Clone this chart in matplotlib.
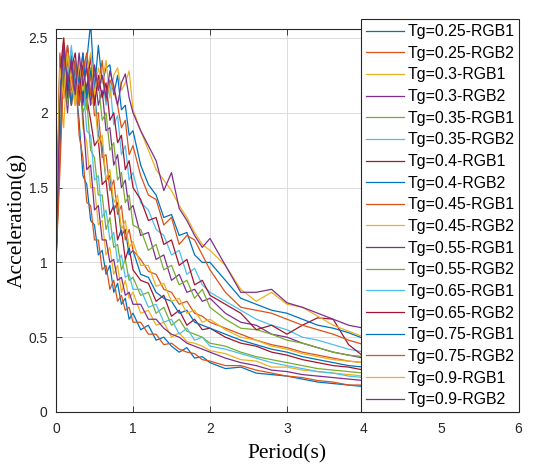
import matplotlib.pyplot as plt
from matplotlib.ticker import FormatStrFormatter

# period grid (s)
period = [0, 0.05, 0.1, 0.15, 0.2, 0.25, 0.3, 0.35, 0.4, 0.45, 0.5, 0.55, 0.6, 0.65, 0.7,
          0.75, 0.8, 0.85, 0.9, 0.95, 1.0, 1.1, 1.2, 1.3, 1.4, 1.5, 1.6, 1.7, 1.8, 1.9, 2.0,
          2.2, 2.4, 2.6, 2.8, 3.0, 3.2, 3.4, 3.6, 3.8, 4.0]

labels = ['Tg=0.25-RGB1', 'Tg=0.25-RGB2', 'Tg=0.3-RGB1', 'Tg=0.3-RGB2',
          'Tg=0.35-RGB1', 'Tg=0.35-RGB2', 'Tg=0.4-RGB1', 'Tg=0.4-RGB2',
          'Tg=0.45-RGB1', 'Tg=0.45-RGB2', 'Tg=0.55-RGB1', 'Tg=0.55-RGB2',
          'Tg=0.65-RGB1', 'Tg=0.65-RGB2', 'Tg=0.75-RGB1', 'Tg=0.75-RGB2',
          'Tg=0.9-RGB1', 'Tg=0.9-RGB2']

# spectral acceleration (g)
tg025_rgb1 = [1.00, 2.05, 2.35, 2.10, 2.42, 2.20, 1.95, 1.58, 1.52, 1.28, 1.25, 1.05, 1.08, 0.92, 0.98, 0.80, 0.86, 0.72, 0.76, 0.62, 0.66,
              0.55, 0.58, 0.48, 0.50, 0.44, 0.40, 0.43, 0.36, 0.37, 0.33, 0.29, 0.30, 0.26, 0.25, 0.24, 0.22, 0.20, 0.19, 0.18, 0.17]
tg025_rgb2 = [1.00, 1.70, 2.45, 2.25, 2.05, 2.30, 1.85, 1.70, 1.40, 1.38, 1.15, 1.15, 0.95, 0.98, 0.82, 0.88, 0.74, 0.78, 0.68, 0.70, 0.60,
              0.60, 0.52, 0.52, 0.45, 0.46, 0.42, 0.40, 0.39, 0.35, 0.34, 0.31, 0.31, 0.28, 0.26, 0.24, 0.23, 0.21, 0.20, 0.18, 0.18]
tg03_rgb1 = [1.00, 2.15, 1.90, 2.40, 2.20, 2.05, 2.30, 1.90, 1.80, 1.50, 1.50, 1.25, 1.28, 1.05, 1.10, 0.92, 0.98, 0.80, 0.88, 0.76, 0.80,
             0.66, 0.68, 0.58, 0.60, 0.50, 0.53, 0.47, 0.46, 0.44, 0.41, 0.39, 0.35, 0.34, 0.30, 0.30, 0.28, 0.27, 0.26, 0.25, 0.24]
tg03_rgb2 = [1.00, 1.85, 2.30, 2.00, 2.35, 2.15, 2.25, 1.98, 1.62, 1.65, 1.35, 1.38, 1.15, 1.15, 1.00, 1.02, 0.88, 0.90, 0.78, 0.80, 0.72,
             0.72, 0.62, 0.62, 0.56, 0.52, 0.50, 0.46, 0.44, 0.42, 0.40, 0.36, 0.33, 0.31, 0.28, 0.27, 0.25, 0.24, 0.23, 0.22, 0.21]
tg035_rgb1 = [1.00, 2.20, 2.40, 2.05, 2.30, 2.10, 2.35, 2.00, 2.08, 1.75, 1.70, 1.45, 1.45, 1.22, 1.30, 1.10, 1.12, 0.95, 1.02, 0.88, 0.90,
              0.78, 0.80, 0.66, 0.70, 0.58, 0.62, 0.54, 0.52, 0.50, 0.46, 0.44, 0.40, 0.37, 0.35, 0.33, 0.31, 0.29, 0.28, 0.27, 0.26]
tg035_rgb2 = [1.00, 1.95, 2.25, 2.40, 2.10, 2.28, 2.05, 2.20, 1.88, 1.85, 1.55, 1.58, 1.30, 1.35, 1.15, 1.20, 1.00, 1.05, 0.90, 0.92, 0.82,
              0.82, 0.70, 0.72, 0.60, 0.62, 0.52, 0.56, 0.48, 0.50, 0.44, 0.42, 0.39, 0.36, 0.33, 0.31, 0.29, 0.27, 0.26, 0.24, 0.23]
tg04_rgb1 = [1.00, 2.30, 2.10, 2.45, 2.20, 2.35, 2.05, 2.28, 2.10, 1.95, 1.78, 1.82, 1.52, 1.55, 1.32, 1.38, 1.15, 1.22, 1.02, 1.10, 0.95,
             0.88, 0.86, 0.74, 0.78, 0.64, 0.68, 0.58, 0.62, 0.55, 0.56, 0.50, 0.46, 0.44, 0.40, 0.38, 0.35, 0.33, 0.31, 0.30, 0.28]
tg04_rgb2 = [1.00, 1.75, 2.35, 2.15, 2.40, 2.20, 2.30, 2.10, 2.35, 2.60, 2.15, 1.85, 1.78, 1.55, 1.58, 1.35, 1.40, 1.18, 1.22, 1.05, 1.08,
             0.92, 0.90, 0.80, 0.76, 0.74, 0.66, 0.68, 0.60, 0.58, 0.56, 0.52, 0.48, 0.45, 0.42, 0.40, 0.37, 0.35, 0.33, 0.31, 0.30]
tg045_rgb1 = [1.00, 2.40, 2.20, 2.35, 2.05, 2.30, 2.15, 2.40, 2.10, 2.25, 1.98, 2.00, 1.70, 1.72, 1.48, 1.55, 1.32, 1.38, 1.15, 1.22, 1.08,
              1.02, 0.94, 0.92, 0.82, 0.80, 0.72, 0.74, 0.66, 0.64, 0.60, 0.56, 0.52, 0.48, 0.45, 0.43, 0.40, 0.38, 0.36, 0.34, 0.33]
tg045_rgb2 = [1.00, 2.00, 2.50, 2.25, 2.40, 2.10, 2.32, 2.18, 2.38, 2.05, 2.10, 1.80, 1.85, 1.55, 1.62, 1.40, 1.45, 1.22, 1.28, 1.10, 1.14,
              0.98, 0.98, 0.84, 0.86, 0.74, 0.76, 0.66, 0.68, 0.60, 0.62, 0.55, 0.50, 0.48, 0.44, 0.42, 0.39, 0.37, 0.35, 0.34, 0.33]
tg055_rgb1 = [1.00, 2.20, 2.45, 2.10, 2.38, 2.15, 2.30, 2.05, 2.35, 2.12, 2.28, 2.05, 2.15, 1.88, 1.90, 1.65, 1.72, 1.50, 1.55, 1.35, 1.38,
              1.18, 1.20, 1.02, 1.05, 0.88, 0.92, 0.80, 0.82, 0.74, 0.76, 0.66, 0.60, 0.58, 0.52, 0.50, 0.46, 0.43, 0.40, 0.38, 0.36]
tg055_rgb2 = [1.00, 2.35, 2.15, 2.40, 2.20, 2.30, 2.08, 2.25, 2.02, 2.30, 2.10, 2.20, 1.95, 2.00, 1.75, 1.80, 1.55, 1.60, 1.40, 1.45, 1.25,
              1.22, 1.08, 1.12, 0.95, 0.98, 0.85, 0.88, 0.76, 0.82, 0.70, 0.62, 0.56, 0.55, 0.52, 0.48, 0.46, 0.43, 0.40, 0.38, 0.37]
tg065_rgb1 = [1.00, 2.05, 2.38, 2.20, 2.45, 2.12, 2.35, 2.18, 2.40, 2.10, 2.30, 2.15, 2.25, 2.05, 2.20, 1.92, 1.98, 1.72, 1.78, 1.55, 1.60,
              1.40, 1.35, 1.22, 1.18, 1.05, 1.08, 0.92, 0.96, 0.85, 0.80, 0.74, 0.68, 0.62, 0.58, 0.55, 0.50, 0.48, 0.45, 0.42, 0.40]
tg065_rgb2 = [1.00, 2.25, 2.50, 2.15, 2.30, 2.40, 2.10, 2.32, 2.15, 2.38, 2.05, 2.25, 2.10, 2.20, 1.95, 2.00, 1.80, 1.85, 1.62, 1.68, 1.50,
              1.42, 1.28, 1.30, 1.12, 1.15, 0.98, 1.02, 0.85, 0.88, 0.78, 0.72, 0.66, 0.55, 0.58, 0.52, 0.58, 0.63, 0.62, 0.45, 0.37]
tg075_rgb1 = [1.00, 2.15, 2.40, 2.25, 2.05, 2.35, 2.20, 2.40, 2.10, 2.28, 2.15, 2.45, 2.20, 2.30, 2.32, 2.12, 2.25, 2.02, 2.05, 1.85, 1.88,
              1.65, 1.52, 1.45, 1.30, 1.32, 1.18, 1.20, 1.05, 1.00, 1.00, 0.88, 0.76, 0.72, 0.68, 0.66, 0.62, 0.58, 0.56, 0.53, 0.49]
tg075_rgb2 = [1.00, 1.60, 2.30, 2.45, 2.15, 2.35, 2.05, 2.28, 2.40, 2.12, 2.30, 2.18, 2.35, 2.08, 2.22, 2.15, 2.05, 1.90, 1.95, 1.72, 1.78,
              1.58, 1.45, 1.42, 1.25, 1.30, 1.12, 1.18, 1.15, 1.05, 0.95, 0.80, 0.70, 0.68, 0.66, 0.62, 0.58, 0.55, 0.52, 0.48, 0.45]
tg09_rgb1 = [1.00, 2.30, 2.10, 2.40, 2.20, 2.05, 2.35, 2.15, 2.28, 2.40, 2.12, 2.30, 2.20, 2.35, 2.10, 2.25, 2.30, 2.15, 2.20, 2.28, 2.02,
             1.88, 1.75, 1.62, 1.55, 1.48, 1.38, 1.30, 1.20, 1.12, 1.08, 0.98, 0.82, 0.74, 0.80, 0.72, 0.70, 0.64, 0.58, 0.54, 0.50]
tg09_rgb2 = [1.00, 2.05, 2.45, 2.20, 2.35, 2.12, 2.40, 2.18, 2.30, 2.05, 2.32, 2.15, 2.25, 2.10, 2.28, 2.18, 2.05, 2.20, 2.26, 2.10, 2.00,
             1.88, 1.78, 1.68, 1.48, 1.60, 1.36, 1.28, 1.18, 1.10, 1.16, 0.98, 0.80, 0.80, 0.82, 0.73, 0.70, 0.66, 0.62, 0.58, 0.56]

series = [tg025_rgb1, tg025_rgb2, tg03_rgb1, tg03_rgb2, tg035_rgb1, tg035_rgb2,
          tg04_rgb1, tg04_rgb2, tg045_rgb1, tg045_rgb2, tg055_rgb1, tg055_rgb2,
          tg065_rgb1, tg065_rgb2, tg075_rgb1, tg075_rgb2, tg09_rgb1, tg09_rgb2]

# MATLAB default line colours
colors = ['#0072BD', '#D95319', '#EDB120', '#7E2F8E', '#77AC30', '#4DBEEE', '#A2142F']

fig = plt.figure(figsize=(5.42, 4.66), dpi=100)
ax = fig.add_axes([0.1033, 0.1159, 0.8524, 0.8219])

for i, (vals, lab) in enumerate(zip(series, labels)):
    ax.plot(period, vals, color=colors[i % len(colors)], lw=0.9, label=lab)

ax.set_xlim(0, 6)
ax.set_ylim(0, 2.56)
ax.set_xticks([0, 1, 2, 3, 4, 5, 6])
ax.set_yticks([0, 0.5, 1, 1.5, 2, 2.5])
ax.yaxis.set_major_formatter(FormatStrFormatter('%g'))
ax.grid(True, color='#dcdcdc', lw=0.7)
ax.set_axisbelow(True)

for t in ax.get_xticklabels() + ax.get_yticklabels():
    t.set_fontfamily('Liberation Sans')
ax.tick_params(direction='in', top=True, right=True, length=4, width=0.6,
               labelsize=10, colors='#262626', labelcolor='#262626')
ax.tick_params(axis='x', pad=7)
ax.tick_params(axis='y', pad=6)
for s in ax.spines.values():
    s.set_color('#262626')
    s.set_linewidth(0.8)

ax.set_xlabel('Period(s)', family='Liberation Serif', fontsize=15.5, labelpad=6)
ax.set_ylabel('Acceleration(g)', family='Liberation Serif', fontsize=15.5, labelpad=1)

leg = ax.legend(loc='lower left', bbox_to_anchor=(0.66, 0.0, 0.342, 1.016), mode='expand',
                prop={'family': 'Liberation Sans', 'size': 11.4}, fancybox=False,
                framealpha=1, edgecolor='#262626', borderaxespad=0, borderpad=0.3,
                labelspacing=0.42, handlelength=2.4, handletextpad=0.25)
leg.get_frame().set_linewidth(0.8)

fig.savefig('out.png', dpi=100)
